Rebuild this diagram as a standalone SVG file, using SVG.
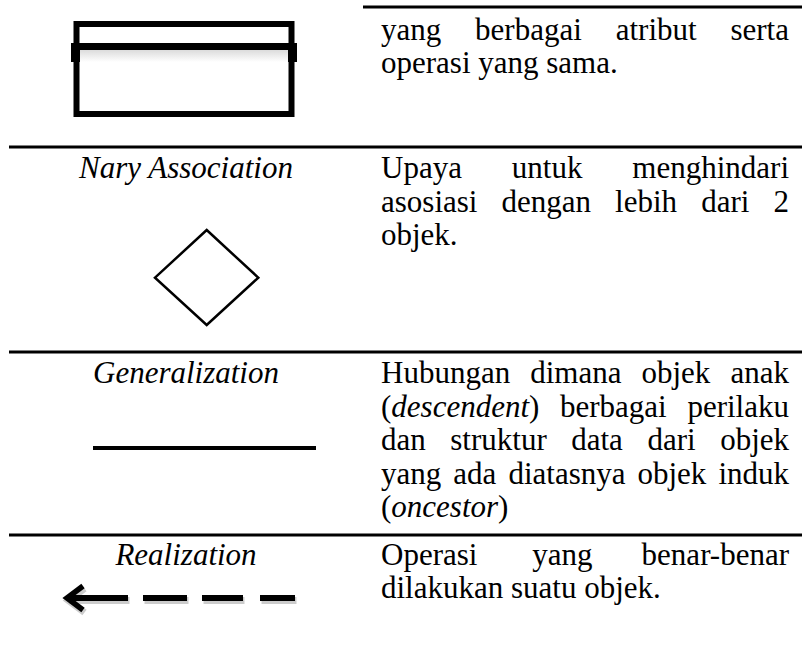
<svg xmlns="http://www.w3.org/2000/svg" width="802" height="650" viewBox="0 0 802 650">
<defs>
<style>
.t{font-family:"Liberation Serif","Times New Roman",serif;font-size:31px;fill:#000}
.i{font-style:italic}
.rule{stroke:#000;stroke-width:3}
.e{text-anchor:end}
.m{text-anchor:middle}
</style>
<linearGradient id="shade" x1="0" y1="0" x2="0" y2="1">
<stop offset="0" stop-color="#b0b0b0"/>
<stop offset="1" stop-color="#ffffff"/>
</linearGradient>
</defs>
<rect width="802" height="650" fill="#fff"/>
<g id="rules">
<line class="rule" x1="363" y1="7" x2="802" y2="7"/>
<line class="rule" x1="9" y1="147" x2="802" y2="147"/>
<line class="rule" x1="9" y1="352" x2="802" y2="352"/>
<line class="rule" x1="9" y1="535" x2="802" y2="535"/>
</g>
<g id="row-class">
<g id="class-icon">
<rect x="80" y="50" width="208" height="12" fill="url(#shade)" opacity="0.45"/>
<rect x="76.5" y="24" width="215" height="90" fill="none" stroke="#000" stroke-width="6"/>
<rect x="71" y="43" width="226" height="7" fill="#000"/>
<rect x="71" y="43" width="9" height="19" fill="#000"/>
<rect x="288" y="43" width="9" height="19" fill="#000"/>
</g>
<text class="t" y="40"><tspan x="381">yang</tspan><tspan x="475.1">berbagai</tspan><tspan x="615.7">atribut</tspan><tspan x="789" class="e">serta</tspan></text>
<text class="t" x="381" y="73">operasi yang sama.</text>
</g>
<g id="row-nary">
<text class="t i m" x="186" y="178">Nary Association</text>
<polygon id="diamond" points="206.7,230 258.3,277.7 206.7,325 155,277.7" fill="none" stroke="#000" stroke-width="2.5"/>
<text class="t" y="178"><tspan x="381">Upaya</tspan><tspan x="511.8">untuk</tspan><tspan x="789" class="e">menghindari</tspan></text>
<text class="t" y="211.5"><tspan x="381">asosiasi</tspan><tspan x="501.5">dengan</tspan><tspan x="615.1">lebih</tspan><tspan x="701.2">dari</tspan><tspan x="789" class="e">2</tspan></text>
<text class="t" x="381" y="245">objek.</text>
</g>
<g id="row-generalization">
<text class="t i m" x="186" y="383">Generalization</text>
<line id="gen-line" x1="93" y1="448" x2="316" y2="448" stroke="#000" stroke-width="4"/>
<text class="t" y="383"><tspan x="381">Hubungan</tspan><tspan x="530.2">dimana</tspan><tspan x="641.5">objek</tspan><tspan x="789" class="e">anak</tspan></text>
<text class="t" y="416.5"><tspan x="381">(</tspan><tspan class="i">descendent</tspan><tspan>)</tspan><tspan x="560">berbagai</tspan><tspan x="789" class="e">perilaku</tspan></text>
<text class="t" y="450"><tspan x="381">dan</tspan><tspan x="450.3">struktur</tspan><tspan x="571.2">data</tspan><tspan x="647.4">dari</tspan><tspan x="789" class="e">objek</tspan></text>
<text class="t" y="483.5"><tspan x="381">yang</tspan><tspan x="453.3">ada</tspan><tspan x="508.4">diatasnya</tspan><tspan x="637.5">objek</tspan><tspan x="789" class="e">induk</tspan></text>
<text class="t" x="381" y="517">(<tspan class="i">oncestor</tspan>)</text>
</g>
<g id="row-realization">
<text class="t i m" x="186" y="565">Realization</text>
<g id="real-arrow">
<g stroke="#000" stroke-opacity="0.2" stroke-width="7" fill="none" transform="translate(1.5,2.5)">
<polyline points="83,586 67,598 83,610"/>
<line x1="68" y1="598" x2="128" y2="598"/>
<line x1="143" y1="598" x2="187" y2="598"/>
<line x1="202" y1="598" x2="243" y2="598"/>
<line x1="260" y1="598" x2="295" y2="598"/>
</g>
<g stroke="#000" stroke-width="6" fill="none">
<polyline points="83,586 67,598 83,610" stroke-width="5.5"/>
<line x1="68" y1="598" x2="128" y2="598"/>
<line x1="143" y1="598" x2="187" y2="598"/>
<line x1="202" y1="598" x2="243" y2="598"/>
<line x1="260" y1="598" x2="295" y2="598"/>
</g>
</g>
<text class="t" y="565"><tspan x="381">Operasi</tspan><tspan x="532.2">yang</tspan><tspan x="789" class="e">benar-benar</tspan></text>
<text class="t" x="381" y="598">dilakukan suatu objek.</text>
</g>
</svg>
